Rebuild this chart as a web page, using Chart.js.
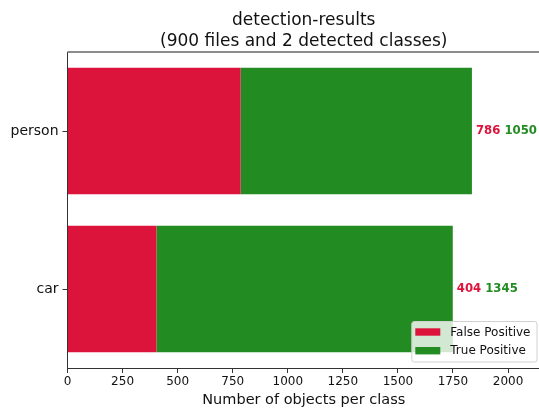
<!DOCTYPE html>
<html>
<head>
<meta charset="utf-8">
<title>detection-results</title>
<script src="https://cdn.jsdelivr.net/npm/chart.js@4.4.1/dist/chart.umd.min.js"></script>
<style>
  html, body { margin: 0; padding: 0; background: #fff; overflow: hidden; }
  #wrap { width: 539px; height: 409px; overflow: hidden; }
  canvas { display: block; }
</style>
</head>
<body>
<div id="wrap"><canvas id="chart" width="608" height="409"></canvas></div>
<script>
// Detected classes and per-class counts
const categories = ['person', 'car'];
const falsePositive = [786, 404];
const truePositive = [1050, 1345];
const xTickValues = [0, 250, 500, 750, 1000, 1250, 1500, 1750, 2000];
const seriesLabels = ['False Positive', 'True Positive'];

const FONT = "'DejaVu Sans', 'Liberation Sans', sans-serif";
const RED = '#DC143C';
const GREEN = '#228B22';

// Centre the title over the plot area rather than the whole canvas
const titleOverPlot = {
  id: 'titleOverPlot',
  afterLayout(chart) {
    const t = chart.titleBlock;
    if (t) {
      t.left = chart.chartArea.left;
      t.right = chart.chartArea.right;
      t.width = t.right - t.left;
    }
  }
};

// Thin frame line along the top of the plot area
const topSpine = {
  id: 'topSpine',
  afterDraw(chart) {
    const { ctx, chartArea: a } = chart;
    ctx.save();
    ctx.strokeStyle = '#666';
    ctx.lineWidth = 1.5;
    ctx.beginPath();
    ctx.moveTo(a.left, a.top);
    ctx.lineTo(a.right, a.top);
    ctx.stroke();
    ctx.restore();
  }
};

// Coloured count labels to the right of each stacked bar
const valueLabels = {
  id: 'valueLabels',
  afterDatasetsDraw(chart) {
    const { ctx } = chart;
    const xs = chart.scales.x, ys = chart.scales.y;
    ctx.save();
    ctx.font = "bold 11.7px " + FONT;
    ctx.textBaseline = 'middle';
    ctx.textAlign = 'left';
    categories.forEach((c, i) => {
      const fp = falsePositive[i], tp = truePositive[i];
      let x = xs.getPixelForValue(fp + tp) + 4;
      const y = ys.getPixelForValue(i);
      const s1 = String(fp) + ' ';
      ctx.fillStyle = RED;
      ctx.fillText(s1, x, y);
      x += ctx.measureText(s1).width;
      ctx.fillStyle = GREEN;
      ctx.fillText(String(tp), x, y);
    });
    ctx.restore();
  }
};

// Boxed legend in the lower right corner of the plot area
const cornerLegend = {
  id: 'cornerLegend',
  afterDraw(chart) {
    const { ctx, chartArea: a } = chart;
    const ds = chart.data.datasets;
    ctx.save();
    ctx.font = "12px " + FONT;
    const textW = Math.max(...ds.map(d => ctx.measureText(d.label).width));
    const boxW = 3 + 25 + 11 + textW + 6;
    const boxH = 40.5;
    const right = a.right - 3;
    const bottom = a.bottom - 6;
    const left = right - boxW, top = bottom - boxH;
    const r = 2.5;
    ctx.beginPath();
    ctx.moveTo(left + r, top);
    ctx.arcTo(right, top, right, bottom, r);
    ctx.arcTo(right, bottom, left, bottom, r);
    ctx.arcTo(left, bottom, left, top, r);
    ctx.arcTo(left, top, right, top, r);
    ctx.closePath();
    ctx.fillStyle = 'rgba(255,255,255,0.8)';
    ctx.fill();
    ctx.strokeStyle = '#d0d0d0';
    ctx.lineWidth = 1;
    ctx.stroke();
    ds.forEach((d, i) => {
      const cy = top + 10.5 + i * 18.7;
      ctx.fillStyle = d.backgroundColor;
      ctx.fillRect(left + 3.5, cy - 3.7, 25, 7.4);
      ctx.fillStyle = '#111';
      ctx.textBaseline = 'middle';
      ctx.fillText(d.label, left + 38.5, cy + 0.5);
    });
    ctx.restore();
  }
};

new Chart(document.getElementById('chart'), {
  type: 'bar',
  data: {
    labels: categories,
    datasets: [
      { label: seriesLabels[0], data: falsePositive, backgroundColor: RED,
        categoryPercentage: 0.8, barPercentage: 1.0, borderWidth: 0 },
      { label: seriesLabels[1], data: truePositive, backgroundColor: GREEN,
        categoryPercentage: 0.8, barPercentage: 1.0, borderWidth: 0 }
    ]
  },
  options: {
    indexAxis: 'y',
    responsive: false,
    animation: false,
    devicePixelRatio: 1,
    layout: { padding: { left: 0, right: 68, top: 0, bottom: 0 } },
    plugins: {
      legend: { display: false },
      tooltip: { enabled: false },
      title: {
        display: true,
        text: ['detection-results', '(900 files and 2 detected classes)'],
        color: '#111',
        font: { family: FONT, size: 17, weight: 'normal', lineHeight: 1.25 },
        padding: { top: 9.5, bottom: 0 }
      }
    },
    scales: {
      x: {
        type: 'linear',
        stacked: true,
        min: 0,
        max: 2145,
        afterBuildTicks(scale) { scale.ticks = xTickValues.map(v => ({ value: v })); },
        afterFit(scale) { scale.height = 41; },
        grid: { drawOnChartArea: false, drawTicks: true, tickLength: 5, color: '#333', tickWidth: 1 },
        border: { display: true, color: '#333', width: 1 },
        ticks: {
          color: '#111', padding: 2, font: { family: FONT, size: 12 },
          maxRotation: 0, autoSkip: false,
          callback: (v) => String(v)
        },
        title: {
          display: true,
          text: 'Number of objects per class',
          color: '#111',
          font: { family: FONT, size: 14.5 },
          padding: { top: 0, bottom: 0 }
        }
      },
      y: {
        stacked: true,
        afterFit(scale) { scale.width = 67.5; },
        grid: { drawOnChartArea: false, drawTicks: true, tickLength: 5, offset: false, color: '#333', tickWidth: 1 },
        border: { display: true, color: '#333', width: 1 },
        ticks: { color: '#111', padding: 4, font: { family: FONT, size: 14 } }
      }
    }
  },
  plugins: [titleOverPlot, topSpine, valueLabels, cornerLegend]
});
</script>
</body>
</html>
